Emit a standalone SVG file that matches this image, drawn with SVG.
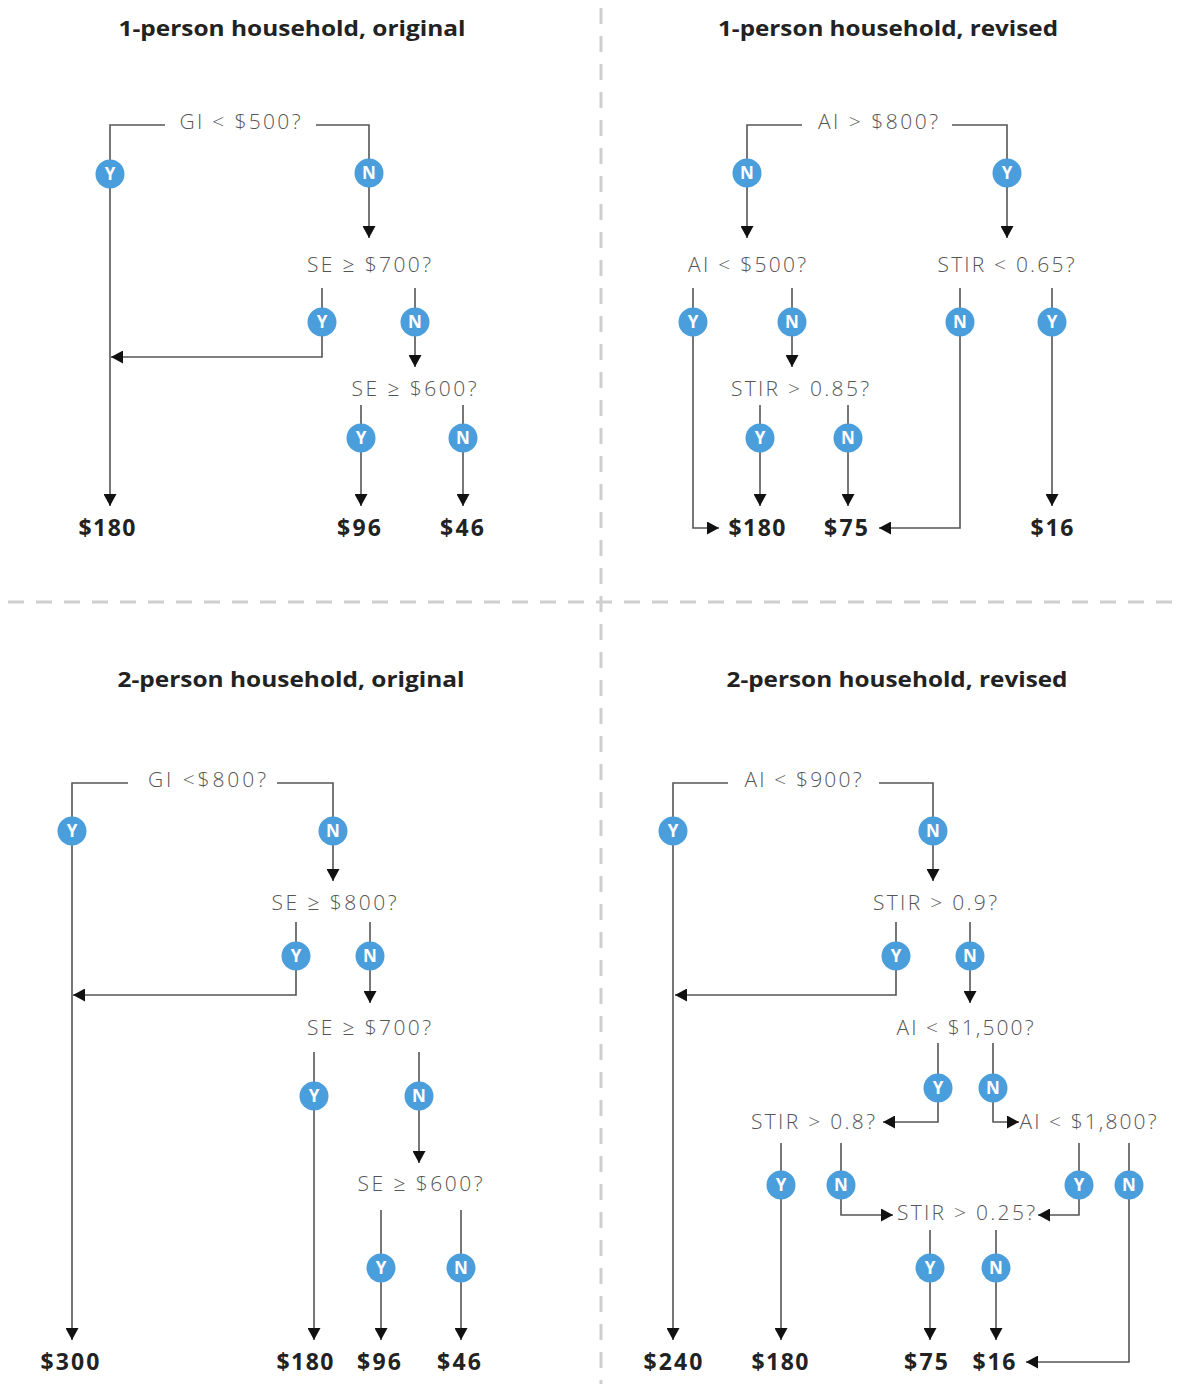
<svg xmlns="http://www.w3.org/2000/svg" width="1191" height="1384" viewBox="0 0 1191 1384">
<defs>
<marker id="ah" markerUnits="userSpaceOnUse" markerWidth="13" markerHeight="13" refX="12" refY="6.5" orient="auto"><path d="M0,0 L12,6.5 L0,13 Z" fill="#111"/></marker>
<style>
.t{font-family:"Open Sans","Liberation Sans",sans-serif;font-weight:700;font-size:22px;fill:#222;text-anchor:middle}
.q{font-family:"Open Sans","Liberation Sans",sans-serif;font-weight:300;font-size:21px;fill:#555;text-anchor:middle}
.r{font-family:"Open Sans","Liberation Sans",sans-serif;font-weight:700;font-size:23px;fill:#222;text-anchor:middle}
.c{fill:none;stroke:#555;stroke-width:1.6}
.a{marker-end:url(#ah)}
.sep{stroke:#cfcfcf;stroke-width:3;stroke-dasharray:16 12;fill:none}
.b circle{fill:#4a9edb}
.b text{font-family:"Open Sans","Liberation Sans",sans-serif;font-weight:700;font-size:17px;fill:#fff;text-anchor:middle}
</style>
</defs>
<rect width="1191" height="1384" fill="#fff"/>
<g id="separators">
<line class="sep" x1="601" y1="8" x2="601" y2="1384"/>
<line class="sep" x1="8" y1="602" x2="1180" y2="602"/>
</g>
<g id="titles">
<text class="t" x="292" y="36" textLength="347" lengthAdjust="spacingAndGlyphs">1-person household, original</text>
<text class="t" x="888" y="36" textLength="340" lengthAdjust="spacingAndGlyphs">1-person household, revised</text>
<text class="t" x="291" y="687" textLength="347" lengthAdjust="spacingAndGlyphs">2-person household, original</text>
<text class="t" x="897" y="687" textLength="341" lengthAdjust="spacingAndGlyphs">2-person household, revised</text>
</g>
<g id="connectors">
<path class="c a" d="M165,125 H110 V506"/>
<path class="c a" d="M316,125 H369 V238"/>
<path class="c a" d="M322,288 V357 H111"/>
<path class="c a" d="M415,288 V367"/>
<path class="c a" d="M361,405 V506"/>
<path class="c a" d="M463,405 V506"/>
<path class="c a" d="M802,125 H747 V238"/>
<path class="c a" d="M952,125 H1007 V238"/>
<path class="c a" d="M693,288 V528 H719"/>
<path class="c a" d="M792,288 V367"/>
<path class="c a" d="M760,405 V506"/>
<path class="c a" d="M848,405 V506"/>
<path class="c a" d="M960,288 V528 H879"/>
<path class="c a" d="M1052,288 V506"/>
<path class="c a" d="M128,783 H72 V1340"/>
<path class="c a" d="M277,783 H333 V881"/>
<path class="c a" d="M296,922 V995 H73"/>
<path class="c a" d="M370,922 V1003"/>
<path class="c a" d="M314,1052 V1340"/>
<path class="c a" d="M419,1052 V1163"/>
<path class="c a" d="M381,1210 V1340"/>
<path class="c a" d="M461,1210 V1340"/>
<path class="c a" d="M728,783 H673 V1340"/>
<path class="c a" d="M879,783 H933 V881"/>
<path class="c a" d="M896,922 V995 H675"/>
<path class="c a" d="M970,922 V1003"/>
<path class="c a" d="M938,1043 V1122 H883"/>
<path class="c a" d="M993,1043 V1122 H1019"/>
<path class="c a" d="M781,1143 V1340"/>
<path class="c a" d="M841,1143 V1215 H893"/>
<path class="c a" d="M1079,1143 V1215 H1038"/>
<path class="c a" d="M1129,1143 V1362 H1026"/>
<path class="c a" d="M930,1230 V1340"/>
<path class="c a" d="M996,1230 V1340"/>
</g>
<g id="badges" class="b">
<g><circle cx="110" cy="174" r="14.5"/><text x="110" y="180">Y</text></g>
<g><circle cx="369" cy="173" r="14.5"/><text x="369" y="179">N</text></g>
<g><circle cx="322" cy="322" r="14.5"/><text x="322" y="328">Y</text></g>
<g><circle cx="415" cy="322" r="14.5"/><text x="415" y="328">N</text></g>
<g><circle cx="361" cy="438" r="14.5"/><text x="361" y="444">Y</text></g>
<g><circle cx="463" cy="438" r="14.5"/><text x="463" y="444">N</text></g>
<g><circle cx="747" cy="173" r="14.5"/><text x="747" y="179">N</text></g>
<g><circle cx="1007" cy="173" r="14.5"/><text x="1007" y="179">Y</text></g>
<g><circle cx="693" cy="322" r="14.5"/><text x="693" y="328">Y</text></g>
<g><circle cx="792" cy="322" r="14.5"/><text x="792" y="328">N</text></g>
<g><circle cx="760" cy="438" r="14.5"/><text x="760" y="444">Y</text></g>
<g><circle cx="848" cy="438" r="14.5"/><text x="848" y="444">N</text></g>
<g><circle cx="960" cy="322" r="14.5"/><text x="960" y="328">N</text></g>
<g><circle cx="1052" cy="322" r="14.5"/><text x="1052" y="328">Y</text></g>
<g><circle cx="72" cy="831" r="14.5"/><text x="72" y="837">Y</text></g>
<g><circle cx="333" cy="831" r="14.5"/><text x="333" y="837">N</text></g>
<g><circle cx="296" cy="956" r="14.5"/><text x="296" y="962">Y</text></g>
<g><circle cx="370" cy="956" r="14.5"/><text x="370" y="962">N</text></g>
<g><circle cx="314" cy="1096" r="14.5"/><text x="314" y="1102">Y</text></g>
<g><circle cx="419" cy="1096" r="14.5"/><text x="419" y="1102">N</text></g>
<g><circle cx="381" cy="1268" r="14.5"/><text x="381" y="1274">Y</text></g>
<g><circle cx="461" cy="1268" r="14.5"/><text x="461" y="1274">N</text></g>
<g><circle cx="673" cy="831" r="14.5"/><text x="673" y="837">Y</text></g>
<g><circle cx="933" cy="831" r="14.5"/><text x="933" y="837">N</text></g>
<g><circle cx="896" cy="956" r="14.5"/><text x="896" y="962">Y</text></g>
<g><circle cx="970" cy="956" r="14.5"/><text x="970" y="962">N</text></g>
<g><circle cx="938" cy="1088" r="14.5"/><text x="938" y="1094">Y</text></g>
<g><circle cx="993" cy="1088" r="14.5"/><text x="993" y="1094">N</text></g>
<g><circle cx="781" cy="1185" r="14.5"/><text x="781" y="1191">Y</text></g>
<g><circle cx="841" cy="1185" r="14.5"/><text x="841" y="1191">N</text></g>
<g><circle cx="1079" cy="1185" r="14.5"/><text x="1079" y="1191">Y</text></g>
<g><circle cx="1129" cy="1185" r="14.5"/><text x="1129" y="1191">N</text></g>
<g><circle cx="930" cy="1268" r="14.5"/><text x="930" y="1274">Y</text></g>
<g><circle cx="996" cy="1268" r="14.5"/><text x="996" y="1274">N</text></g>
</g>
<g id="q1-gi500"><text class="q" x="240" y="129" textLength="121" lengthAdjust="spacing">GI &lt; $500?</text></g>
<g id="q1-se700"><text class="q" x="369" y="272" textLength="124" lengthAdjust="spacing">SE ≥ $700?</text></g>
<g id="q1-se600"><text class="q" x="414" y="396" textLength="125" lengthAdjust="spacing">SE ≥ $600?</text></g>
<g id="q1-r180"><text class="r" x="107" y="536" textLength="57" lengthAdjust="spacing">$180</text></g>
<g id="q1-r96"><text class="r" x="359" y="536" textLength="44" lengthAdjust="spacing">$96</text></g>
<g id="q1-r46"><text class="r" x="462" y="536" textLength="44" lengthAdjust="spacing">$46</text></g>
<g id="q2-ai800"><text class="q" x="878" y="129" textLength="120" lengthAdjust="spacing">AI &gt; $800?</text></g>
<g id="q2-ai500"><text class="q" x="747" y="272" textLength="118" lengthAdjust="spacing">AI &lt; $500?</text></g>
<g id="q2-stir065"><text class="q" x="1006" y="272" textLength="137" lengthAdjust="spacing">STIR &lt; 0.65?</text></g>
<g id="q2-stir085"><text class="q" x="800" y="396" textLength="138" lengthAdjust="spacing">STIR &gt; 0.85?</text></g>
<g id="q2-r180"><text class="r" x="757" y="536" textLength="57" lengthAdjust="spacing">$180</text></g>
<g id="q2-r75"><text class="r" x="846" y="536" textLength="44" lengthAdjust="spacing">$75</text></g>
<g id="q2-r16"><text class="r" x="1052" y="536" textLength="43" lengthAdjust="spacing">$16</text></g>
<g id="q3-gi800"><text class="q" x="207" y="787" textLength="118" lengthAdjust="spacing">GI &lt;$800?</text></g>
<g id="q3-se800"><text class="q" x="334" y="910" textLength="125" lengthAdjust="spacing">SE ≥ $800?</text></g>
<g id="q3-se700"><text class="q" x="369" y="1035" textLength="124" lengthAdjust="spacing">SE ≥ $700?</text></g>
<g id="q3-se600"><text class="q" x="420" y="1191" textLength="125" lengthAdjust="spacing">SE ≥ $600?</text></g>
<g id="q3-r300"><text class="r" x="70" y="1370" textLength="59" lengthAdjust="spacing">$300</text></g>
<g id="q3-r180"><text class="r" x="305" y="1370" textLength="57" lengthAdjust="spacing">$180</text></g>
<g id="q3-r96"><text class="r" x="379" y="1370" textLength="44" lengthAdjust="spacing">$96</text></g>
<g id="q3-r46"><text class="r" x="459" y="1370" textLength="44" lengthAdjust="spacing">$46</text></g>
<g id="q4-ai900"><text class="q" x="803" y="787" textLength="117" lengthAdjust="spacing">AI &lt; $900?</text></g>
<g id="q4-stir09"><text class="q" x="935" y="910" textLength="124" lengthAdjust="spacing">STIR &gt; 0.9?</text></g>
<g id="q4-ai1500"><text class="q" x="965" y="1035" textLength="137" lengthAdjust="spacing">AI &lt; $1,500?</text></g>
<g id="q4-stir08"><text class="q" x="813" y="1129" textLength="124" lengthAdjust="spacing">STIR &gt; 0.8?</text></g>
<g id="q4-ai1800"><text class="q" x="1088" y="1129" textLength="137" lengthAdjust="spacing">AI &lt; $1,800?</text></g>
<g id="q4-stir025"><text class="q" x="966" y="1220" textLength="138" lengthAdjust="spacing">STIR &gt; 0.25?</text></g>
<g id="q4-r240"><text class="r" x="673" y="1370" textLength="59" lengthAdjust="spacing">$240</text></g>
<g id="q4-r180"><text class="r" x="780" y="1370" textLength="57" lengthAdjust="spacing">$180</text></g>
<g id="q4-r75"><text class="r" x="926" y="1370" textLength="44" lengthAdjust="spacing">$75</text></g>
<g id="q4-r16"><text class="r" x="994" y="1370" textLength="43" lengthAdjust="spacing">$16</text></g>
</svg>
